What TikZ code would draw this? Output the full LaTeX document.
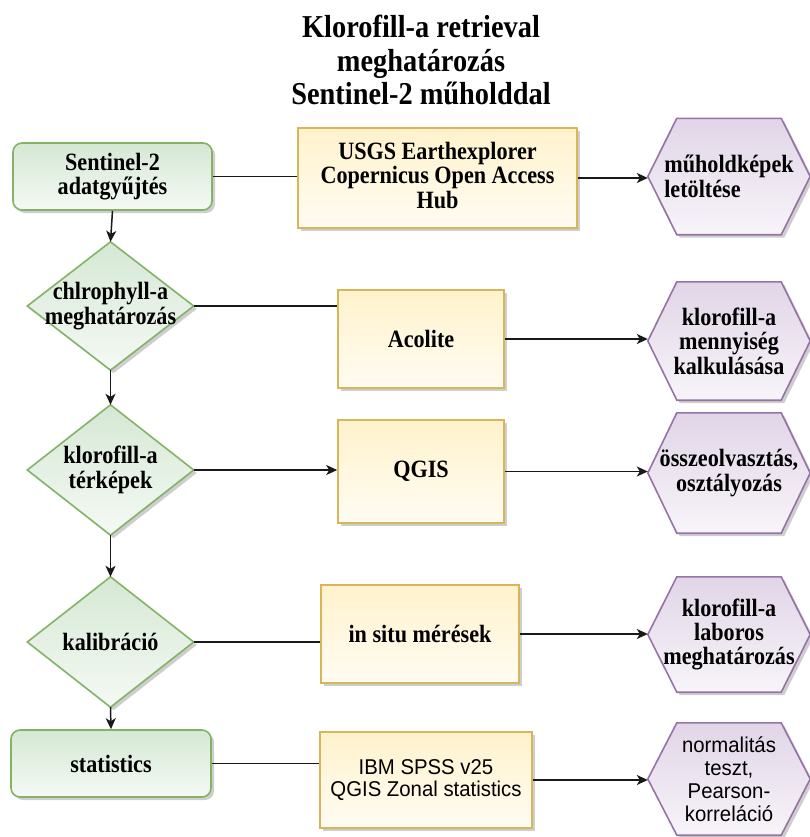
\documentclass[tikz,border=0pt]{standalone}
\usepackage{fontspec}
\setmainfont{Liberation Serif}[FakeStretch=0.89]
\setsansfont{Liberation Sans}[FakeStretch=0.95]
\usetikzlibrary{arrows.meta,shadows,backgrounds,calc}
\definecolor{gfill}{HTML}{D5E8D4}
\definecolor{gline}{HTML}{82B366}
\definecolor{yfill}{HTML}{FFF2CC}
\definecolor{yline}{HTML}{D6B656}
\definecolor{pfill}{HTML}{E1D5E7}
\definecolor{pline}{HTML}{9673A6}
\newcommand\boxfont{\fontsize{25}{24.5}\selectfont\bfseries}
\newcommand\titlefont{\fontsize{32}{33.5}\selectfont\bfseries}
\newcommand\sansboxfont{\sffamily\fontsize{21.5}{23}\selectfont}
\tikzset{
  shad/.style={drop shadow={shadow xshift=3bp,shadow yshift=-3bp,opacity=0.35,fill=black!55}},
  greenbox/.style={rectangle, rounded corners=9bp, draw=gline, line width=1.6bp,
    top color=gfill, bottom color=gfill!25, shad, font=\boxfont, align=center, inner sep=0pt},
  yellowbox/.style={rectangle, draw=yline, line width=1.6bp,
    top color=yfill, bottom color=yfill!25, shad, font=\boxfont, align=center, inner sep=0pt},
  holder/.style={rectangle, font=\boxfont, align=center, inner sep=0pt},
  diamondpath/.style={draw=gline, line width=1.6bp, top color=gfill, bottom color=gfill!25, shad},
  hexpath/.style={draw=pline, line width=1.6bp, top color=pfill, bottom color=pfill!25, shad},
  conn/.style={line width=1.5bp, draw=black!90},
  arr/.style={conn, -{Stealth[length=11bp,width=10bp,inset=3bp]}},
}
\begin{document}
\begin{tikzpicture}[x=1bp,y=1bp]
\useasboundingbox (0,0) rectangle (810,-837);

\node[font=\titlefont, align=center] (title) at (421,-60)
  {Klorofill-a retrieval\\meghatározás\\Sentinel-2 műholddal};

% left column
\node[greenbox, minimum width=199bp, minimum height=67bp] (g1) at (112.5,-176.5) {Sentinel-2\\adatgyűjtés};
\node[holder, minimum width=166bp, minimum height=128bp] (d1) at (110.5,-306) {chlrophyll-a\\meghatározás};
\node[holder, minimum width=166bp, minimum height=130bp] (d2) at (110.5,-470) {klorofill-a\\térképek};
\node[holder, minimum width=166bp, minimum height=130bp] (d3) at (110.5,-642) {kalibráció};
\node[greenbox, minimum width=200bp, minimum height=67bp] (g2) at (111,-763.5) {statistics};

% middle column
\node[yellowbox, minimum width=279bp, minimum height=100bp] (y1) at (437.5,-178) {USGS Earthexplorer\\Copernicus Open Access\\Hub\rule[-6bp]{0pt}{1bp}};
\node[yellowbox, minimum width=166bp, minimum height=98bp] (y2) at (421,-339) {Acolite};
\node[yellowbox, minimum width=166bp, minimum height=103bp] (y3) at (421,-471.5) {QGIS};
\node[yellowbox, minimum width=198bp, minimum height=98bp] (y4) at (420,-634) {in situ mérések};
\node[yellowbox, font=\sansboxfont, minimum width=212bp, minimum height=96bp] (y5) at (426,-780) {IBM SPSS v25\\QGIS Zonal statistics};

% right column
\node[holder, align=left, minimum width=162bp, minimum height=116bp] (h1) at (729,-176.5) {műholdképek\\letöltése};
\node[holder, minimum width=162bp, minimum height=118bp] (h2) at (729,-341) {klorofill-a\\mennyiség\\kalkulásása};
\node[holder, minimum width=162bp, minimum height=120bp] (h3) at (729,-473) {összeolvasztás,\\osztályozás};
\node[holder, minimum width=162bp, minimum height=115bp] (h4) at (729,-634.5) {klorofill-a\\laboros\\meghatározás};
\node[holder, font=\sansboxfont, minimum width=162bp, minimum height=112bp] (h5) at (729,-779) {normalitás\\teszt,\\Pearson-\\korreláció};

\begin{scope}[on background layer]
  \foreach \n in {d1,d2,d3}
    \path[diamondpath] (\n.north) -- (\n.east) -- (\n.south) -- (\n.west) -- cycle;
  \foreach \n in {h1,h2,h3,h4,h5}
    \path[hexpath] (\n.west) -- ([xshift=29bp]\n.north west) -- ([xshift=-29bp]\n.north east)
      -- (\n.east) -- ([xshift=-29bp]\n.south east) -- ([xshift=29bp]\n.south west) -- cycle;
\end{scope}

% vertical flow
\draw[arr] (g1.south) -- (d1.north);
\draw[arr] (d1.south) -- (d2.north);
\draw[arr] (d2.south) -- (d3.north);
\draw[arr] (d3.south) -- (g2.north);

% horizontal connectors
\draw[conn] (g1.east) -- (g1.east -| y1.west);
\draw[arr] (y1.east) -- (y1.east -| h1.west);
\draw[conn] (d1.east) -- (d1.east -| y2.west);
\draw[arr] (y2.east) -- (y2.east -| h2.west);
\draw[arr] (d2.east) -- (d2.east -| y3.west);
\draw[arr] (y3.east) -- (y3.east -| h3.west);
\draw[conn] (d3.east) -- (d3.east -| y4.west);
\draw[arr] (y4.east) -- (y4.east -| h4.west);
\draw[conn] (g2.east) -- (g2.east -| y5.west);
\draw[arr] (y5.east) -- (y5.east -| h5.west);
\end{tikzpicture}
\end{document}
